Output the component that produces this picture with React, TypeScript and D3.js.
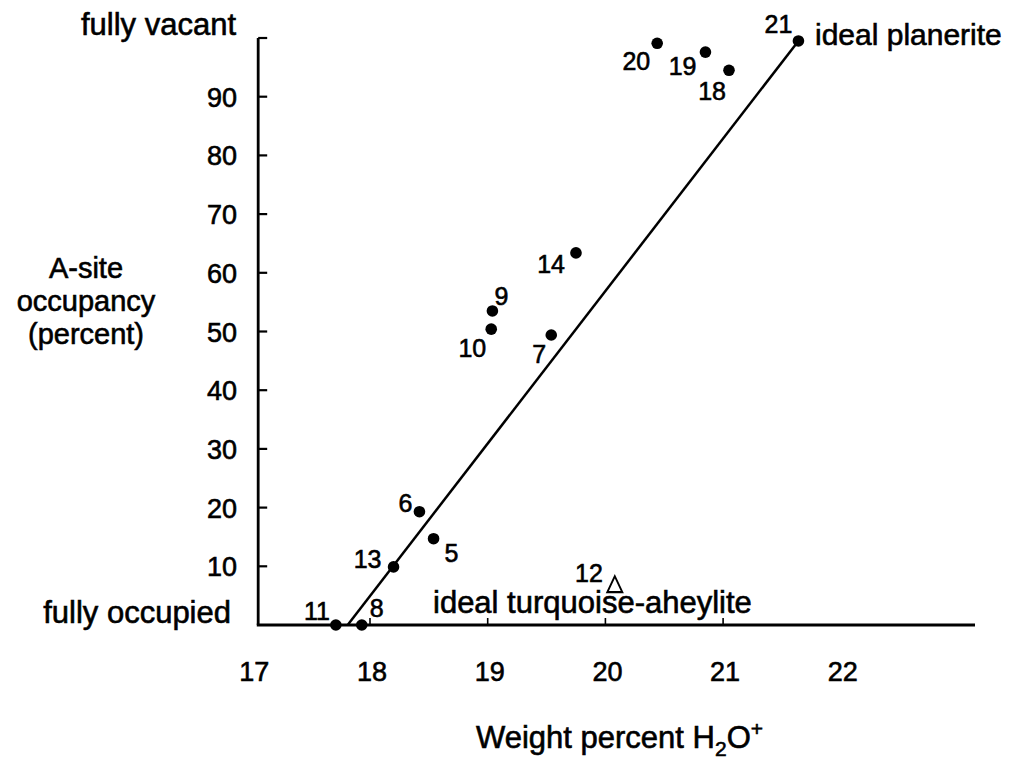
import React from "react";
import * as d3 from "d3";

// Samples: id, weight percent H2O+, A-site occupancy (percent)
const sampleIds = ["11", "8", "13", "6", "5", "10", "9", "7", "14", "20", "19", "18", "21"];
const waterPct = [17.71, 17.93, 18.2, 18.42, 18.54, 19.03, 19.04, 19.54, 19.75, 20.44, 20.85, 21.05, 21.64];
const occupancy = [0, 0, 9.9, 19.3, 14.7, 50.4, 53.5, 49.4, 63.4, 99.1, 97.6, 94.5, 99.5];

// Sample 12, drawn as an open triangle
const triangleId = "12";
const triangleWater = 20.08;
const triangleOcc = 6.5;

// Trend from ideal turquoise-aheylite to ideal planerite
const trendWater = [17.81, 21.64];
const trendOcc = [0, 99.5];

const xTickValues = [17, 18, 19, 20, 21, 22];
const xTickMarks = [18, 19, 20, 21];
const yTickValues = [10, 20, 30, 40, 50, 60, 70, 80, 90];

// label placement relative to each marker: [dx, dy, anchor]
const labelOffsets: Record<string, [number, number, string]> = {
  "11": [-6, -5, "end"],
  "8": [8, -8, "start"],
  "13": [-12, 1, "end"],
  "6": [-7, 0, "end"],
  "5": [11, 23, "start"],
  "10": [-5, 28, "end"],
  "9": [2, -6, "start"],
  "7": [-5, 28, "end"],
  "14": [-11, 20, "end"],
  "20": [-7, 27, "end"],
  "19": [-9, 23, "end"],
  "18": [-3, 30, "end"],
  "21": [-6, -8, "end"],
  "12": [-12, -5, "end"],
};

const W = 1013;
const H = 766;
const FONT = "'Liberation Sans', Arial, Helvetica, sans-serif";

export default function App() {
  const x = d3.scaleLinear().domain([17, 22]).range([252.3, 840.8]);
  const y = d3.scaleLinear().domain([0, 100]).range([625, 38]);
  const x0 = x(17.05);
  const xEnd = 975;

  const line = d3
    .line<number>()
    .x((_, i) => x(trendWater[i]))
    .y((_, i) => y(trendOcc[i]));

  const tri = d3.symbol().type(d3.symbolTriangle).size(120)();

  const textStyle = { fontFamily: FONT, fill: "#000", stroke: "#000", strokeWidth: 0.6 };

  return (
    <svg
      width={W}
      height={H}
      style={{ position: "absolute", left: 0, top: 0, background: "#fff" }}
    >
      <rect width={W} height={H} fill="#fff" />
      {/* axes */}
      <line x1={x0} x2={x0} y1={y(100)} y2={y(0)} stroke="#000" strokeWidth={2.8} />
      <line x1={x0 - 1.4} x2={xEnd} y1={y(0)} y2={y(0)} stroke="#000" strokeWidth={2.8} />
      {[...yTickValues, 100].map((v) => (
        <line key={"yt" + v} x1={x0} x2={x0 + 9} y1={y(v)} y2={y(v)} stroke="#000" strokeWidth={2.2} />
      ))}
      {xTickMarks.map((v) => (
        <line key={"xt" + v} x1={x(v)} x2={x(v)} y1={y(0)} y2={y(0) - 7} stroke="#000" strokeWidth={1.6} />
      ))}

      {/* tick labels */}
      {yTickValues.map((v) => (
        <text key={"yl" + v} x={237} y={y(v) + 10} textAnchor="end" fontSize={27} style={textStyle}>
          {v}
        </text>
      ))}
      {xTickValues.map((v) => (
        <text key={"xl" + v} x={x(v) + 2} y={681} textAnchor="middle" fontSize={27} style={textStyle}>
          {v}
        </text>
      ))}

      {/* axis titles */}
      <text textAnchor="middle" fontSize={29} style={textStyle}>
        <tspan x={86} y={278}>A-site</tspan>
        <tspan x={86} y={311}>occupancy</tspan>
        <tspan x={86} y={344}>(percent)</tspan>
      </text>
      <text x={476} y={748} fontSize={31} style={textStyle}>
        Weight percent H
        <tspan fontSize={21} dy={8}>2</tspan>
        <tspan dy={-8}>O</tspan>
        <tspan fontSize={21} dy={-12}>+</tspan>
      </text>

      {/* end-member annotations */}
      <text x={236} y={35} textAnchor="end" fontSize={31} style={textStyle}>fully vacant</text>
      <text x={231} y={623} textAnchor="end" fontSize={31} style={textStyle}>fully occupied</text>
      <text x={815} y={45} fontSize={30} style={textStyle}>ideal planerite</text>
      <text x={433} y={613} fontSize={31} style={textStyle}>ideal turquoise-aheylite</text>

      {/* trend line */}
      <path d={line(trendWater) || ""} fill="none" stroke="#000" strokeWidth={2.5} />

      {/* samples */}
      {sampleIds.map((id, i) => {
        const cx = x(waterPct[i]);
        const cy = y(occupancy[i]);
        const [dx, dy, anchor] = labelOffsets[id];
        return (
          <g key={id}>
            <circle cx={cx} cy={cy} r={5.8} fill="#000" />
            <text x={cx + dx} y={cy + dy} textAnchor={anchor as any} fontSize={25} style={textStyle}>
              {id}
            </text>
          </g>
        );
      })}
      <path
        d={tri || ""}
        transform={`translate(${x(triangleWater)},${y(triangleOcc)}) scale(0.9,1.1)`}
        fill="none"
        stroke="#000"
        strokeWidth={2}
      />
      <text
        x={x(triangleWater) + labelOffsets[triangleId][0]}
        y={y(triangleOcc) + labelOffsets[triangleId][1]}
        textAnchor="end"
        fontSize={25}
        style={textStyle}
      >
        {triangleId}
      </text>
    </svg>
  );
}
